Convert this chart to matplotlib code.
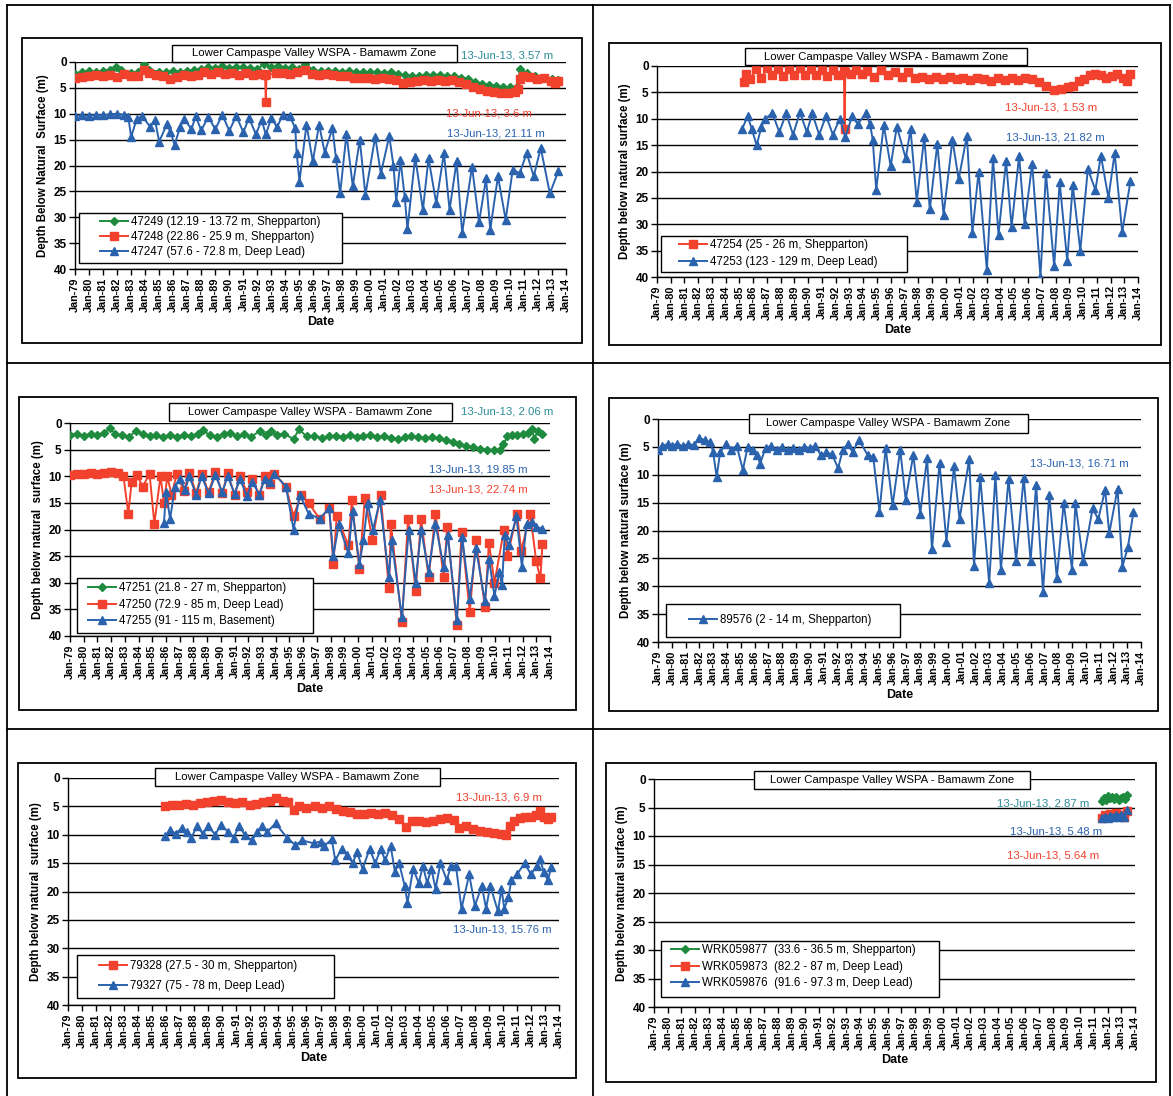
import matplotlib.pyplot as plt
from matplotlib.patches import Rectangle
from matplotlib.lines import Line2D

plt.rcParams['font.family'] = ['Liberation Sans', 'DejaVu Sans']

W, H = 1173, 1096
GREEN = '#1e8b3e'
RED = '#f2412d'
BLUE = '#2a62ae'
TEAL = '#2b8c98'

years = list(range(1979, 2015))
year_labels = ['Jan-%02d' % (y % 100) for y in years]
depth_ticks = [0, 5, 10, 15, 20, 25, 30, 35, 40]

# bore 47249 / 47248 / 47247
b47249 = [(1979.0, 2.3), (1979.5, 1.9), (1980.0, 1.8), (1980.5, 1.9), (1981.0, 1.7), (1981.5, 1.5),
          (1981.9, 0.9), (1982.3, 1.6), (1983.0, 2.1), (1983.5, 1.9), (1983.9, 0.3), (1984.3, 1.5),
          (1985.0, 1.9), (1985.5, 2.0), (1986.0, 1.8), (1986.5, 1.9), (1987.0, 1.7), (1987.5, 1.6),
          (1988.0, 1.3), (1988.5, 1.0), (1989.0, 1.2), (1989.5, 0.8), (1990.0, 1.1), (1990.5, 0.9),
          (1991.0, 1.0), (1991.5, 1.2), (1992.0, 1.3), (1992.5, 0.4), (1993.0, 1.0), (1993.5, 0.8),
          (1994.0, 1.2), (1994.5, 1.0), (1995.0, 1.3), (1995.4, 0.3), (1996.0, 1.6), (1996.5, 1.8),
          (1997.0, 1.8), (1997.5, 1.7), (1998.0, 1.9), (1998.5, 1.8), (1999.0, 2.0), (1999.5, 1.9),
          (2000.0, 2.0), (2000.5, 2.0), (2001.0, 2.1), (2001.5, 2.0), (2002.0, 2.4), (2002.5, 2.6),
          (2003.0, 2.8), (2003.5, 2.7), (2004.0, 2.5), (2004.5, 2.6), (2005.0, 2.6), (2005.5, 2.8),
          (2006.0, 2.7), (2006.5, 3.0), (2007.0, 3.2), (2007.5, 3.8), (2008.0, 4.2), (2008.5, 4.5),
          (2009.0, 4.6), (2009.5, 4.8), (2010.0, 4.9), (2010.5, 4.8), (2010.6, 4.9), (2010.7, 1.3),
          (2011.2, 2.1), (2011.8, 2.7), (2012.4, 3.0), (2013.0, 3.3), (2013.45, 3.57)]
b47248 = [(1979.0, 3.0), (1979.5, 2.9), (1980.0, 2.8), (1980.5, 2.6), (1981.0, 2.8), (1981.5, 2.5),
          (1982.0, 2.9), (1982.5, 2.4), (1983.0, 2.8), (1983.5, 2.7), (1983.9, 1.6), (1984.3, 2.2),
          (1984.8, 2.5), (1985.3, 2.8), (1985.8, 3.2), (1986.3, 2.9), (1986.8, 2.6), (1987.3, 2.7),
          (1987.8, 2.6), (1988.2, 2.0), (1988.7, 2.3), (1989.2, 2.0), (1989.7, 2.4), (1990.2, 2.1),
          (1990.7, 2.5), (1991.2, 2.2), (1991.7, 2.5), (1992.2, 2.3), (1992.55, 2.5), (1992.6, 7.8),
          (1992.65, 2.4), (1993.3, 2.2), (1993.8, 2.1), (1994.3, 2.3), (1994.8, 2.0), (1995.4, 1.6),
          (1995.9, 2.3), (1996.4, 2.5), (1996.9, 2.4), (1997.4, 2.6), (1997.9, 2.8), (1998.4, 2.7),
          (1998.9, 3.0), (1999.4, 3.1), (1999.9, 3.0), (2000.4, 3.2), (2000.9, 3.1), (2001.4, 3.3),
          (2001.9, 3.5), (2002.4, 4.0), (2002.9, 3.8), (2003.4, 3.6), (2003.9, 3.5), (2004.4, 3.7),
          (2004.9, 3.4), (2005.4, 3.6), (2005.9, 3.5), (2006.4, 3.8), (2006.9, 4.2), (2007.4, 4.8),
          (2007.9, 5.3), (2008.4, 5.6), (2008.9, 5.8), (2009.4, 5.9), (2009.9, 5.9), (2010.4, 5.8),
          (2010.6, 5.2), (2010.7, 3.2), (2010.9, 2.7), (2011.4, 2.9), (2011.9, 3.3), (2012.4, 3.1),
          (2012.9, 3.6), (2013.2, 4.0), (2013.45, 3.6)]
b47247 = [(1979.0, 10.4), (1979.5, 10.3), (1980.0, 10.4), (1980.5, 10.2), (1981.0, 10.3), (1981.5, 10.1),
          (1982.0, 10.0), (1982.5, 10.2), (1982.8, 10.6), (1983.0, 14.5), (1983.4, 11.0), (1983.8, 10.5),
          (1984.35, 12.5), (1984.7, 11.2), (1985.0, 15.4), (1985.55, 12.0), (1985.8, 13.5), (1986.1, 16.0),
          (1986.5, 12.5), (1986.8, 11.0), (1987.3, 13.0), (1987.6, 10.5), (1988.0, 13.2), (1988.5, 10.6),
          (1989.0, 13.0), (1989.5, 10.2), (1990.0, 13.3), (1990.5, 10.4), (1991.0, 13.6), (1991.4, 10.8),
          (1991.9, 14.0), (1992.3, 11.2), (1992.6, 14.0), (1993.0, 10.8), (1993.4, 12.6), (1993.8, 10.3),
          (1994.3, 10.4), (1994.7, 12.8), (1994.8, 17.5), (1995.0, 23.1), (1995.5, 12.1), (1995.95, 19.2),
          (1996.4, 12.1), (1996.8, 17.5), (1997.35, 12.8), (1997.6, 18.5), (1997.9, 25.4), (1998.35, 13.9),
          (1998.8, 24.0), (1999.3, 15.0), (1999.7, 25.7), (2000.4, 14.4), (2000.8, 21.6), (2001.4, 14.3),
          (2001.7, 20.0), (2001.9, 27.0), (2002.2, 19.0), (2002.5, 26.0), (2002.7, 32.3), (2003.25, 18.3),
          (2003.8, 28.6), (2004.2, 18.6), (2004.75, 27.3), (2005.3, 17.6), (2005.7, 28.6), (2006.2, 19.2),
          (2006.6, 33.0), (2007.3, 20.2), (2007.8, 31.0), (2008.3, 22.5), (2008.6, 32.4), (2009.15, 22.1),
          (2009.7, 30.5), (2010.2, 20.8), (2010.7, 21.5), (2011.2, 17.6), (2011.7, 22.1), (2012.2, 16.6),
          (2012.85, 25.4), (2013.45, 21.11)]

# bore 47254 / 47253
b47254 = [(1985.35, 3.0), (1985.5, 1.5), (1985.8, 2.5), (1986.2, 0.6), (1986.6, 2.2), (1987.0, 0.4),
          (1987.4, 1.8), (1987.8, 0.5), (1988.2, 1.9), (1988.6, 0.6), (1989.0, 1.7), (1989.4, 0.4),
          (1989.8, 1.8), (1990.2, 0.6), (1990.6, 1.8), (1991.0, 0.7), (1991.4, 1.9), (1991.8, 0.8),
          (1992.2, 1.8), (1992.6, 1.0), (1992.65, 12.0), (1992.7, 1.2), (1993.1, 1.6), (1993.5, 0.8),
          (1993.9, 1.5), (1994.3, 1.0), (1994.8, 2.0), (1995.3, 0.7), (1995.8, 1.8), (1996.3, 1.1),
          (1996.8, 2.0), (1997.3, 1.2), (1997.8, 2.2), (1998.3, 2.0), (1998.8, 2.4), (1999.3, 2.1),
          (1999.8, 2.5), (2000.3, 2.1), (2000.8, 2.4), (2001.3, 2.2), (2001.8, 2.6), (2002.3, 2.3),
          (2002.8, 2.5), (2003.3, 2.8), (2003.8, 2.2), (2004.3, 2.6), (2004.8, 2.3), (2005.3, 2.7),
          (2005.8, 2.2), (2006.3, 2.5), (2006.8, 3.0), (2007.3, 3.8), (2007.9, 4.6), (2008.4, 4.3),
          (2008.9, 4.0), (2009.3, 3.8), (2009.7, 2.8), (2010.1, 2.4), (2010.5, 1.8), (2010.9, 1.5),
          (2011.3, 1.7), (2011.7, 2.2), (2012.1, 1.9), (2012.5, 1.6), (2012.9, 2.3), (2013.2, 2.8),
          (2013.45, 1.53)]
b47253 = [(1985.2, 11.9), (1985.6, 9.5), (1985.9, 12.0), (1986.25, 15.0), (1986.6, 11.5), (1986.85, 10.0),
          (1987.4, 9.0), (1987.9, 12.5), (1988.4, 9.0), (1988.9, 13.0), (1989.4, 8.8), (1989.9, 12.5),
          (1990.3, 9.0), (1990.8, 13.0), (1991.3, 9.5), (1991.8, 13.0), (1992.3, 10.0), (1992.7, 13.5),
          (1993.2, 9.5), (1993.6, 11.0), (1994.2, 9.0), (1994.5, 11.0), (1994.7, 14.0), (1994.95, 23.5),
          (1995.5, 11.2), (1996.0, 19.0), (1996.45, 11.5), (1997.1, 17.5), (1997.45, 12.0), (1997.9, 25.7),
          (1998.45, 13.5), (1998.85, 27.2), (1999.4, 14.7), (1999.85, 28.2), (2000.5, 14.0), (2000.95, 21.5),
          (2001.55, 13.2), (2001.95, 31.6), (2002.4, 20.0), (2003.0, 38.6), (2003.45, 17.5), (2003.85, 32.0),
          (2004.4, 18.0), (2004.8, 30.5), (2005.35, 17.0), (2005.75, 30.0), (2006.3, 18.5), (2006.9, 40.0),
          (2007.3, 20.3), (2007.9, 38.0), (2008.3, 22.0), (2008.85, 37.0), (2009.25, 22.5), (2009.8, 35.0),
          (2010.35, 19.5), (2010.9, 23.5), (2011.3, 17.0), (2011.85, 25.0), (2012.3, 16.5), (2012.85, 31.5),
          (2013.45, 21.82)]

# bore 47251 / 47250 / 47255
b47251 = [(1979.0, 2.3), (1979.5, 2.1), (1980.0, 2.4), (1980.5, 2.0), (1981.0, 2.2), (1981.5, 1.9),
          (1981.9, 1.0), (1982.3, 2.0), (1982.8, 2.3), (1983.3, 2.6), (1983.8, 1.5), (1984.3, 2.1),
          (1984.8, 2.5), (1985.3, 2.2), (1985.8, 2.7), (1986.3, 2.3), (1986.8, 2.6), (1987.3, 2.2),
          (1987.8, 2.5), (1988.3, 2.0), (1988.7, 1.4), (1989.2, 2.3), (1989.7, 2.6), (1990.2, 2.0),
          (1990.7, 1.8), (1991.2, 2.5), (1991.7, 2.1), (1992.2, 2.6), (1992.85, 1.5), (1993.3, 2.3),
          (1993.65, 1.5), (1994.1, 2.2), (1994.6, 2.0), (1995.3, 3.0), (1995.7, 1.2), (1996.25, 2.5),
          (1996.8, 2.4), (1997.35, 2.8), (1997.9, 2.5), (1998.4, 2.4), (1998.9, 2.7), (1999.4, 2.3),
          (1999.9, 2.6), (2000.4, 2.5), (2000.9, 2.3), (2001.4, 2.6), (2001.9, 2.4), (2002.4, 2.8),
          (2002.9, 3.0), (2003.4, 2.7), (2003.9, 2.5), (2004.4, 2.6), (2004.9, 2.8), (2005.4, 2.6),
          (2005.9, 2.9), (2006.4, 3.1), (2006.9, 3.5), (2007.4, 3.9), (2007.9, 4.3), (2008.4, 4.6),
          (2008.9, 4.8), (2009.4, 5.0), (2009.9, 5.0), (2010.35, 5.0), (2010.6, 4.0), (2010.9, 2.5),
          (2011.2, 2.2), (2011.6, 2.3), (2012.0, 2.0), (2012.4, 1.8), (2012.7, 1.2), (2012.85, 3.0),
          (2013.1, 1.5), (2013.45, 2.06)]
b47250 = [(1979.0, 9.8), (1979.5, 9.6), (1980.0, 9.5), (1980.5, 9.4), (1981.0, 9.5), (1981.5, 9.3),
          (1982.0, 9.2), (1982.5, 9.4), (1982.9, 10.0), (1983.25, 17.0), (1983.5, 11.0), (1983.9, 9.8),
          (1984.3, 12.0), (1984.8, 9.5), (1985.15, 18.9), (1985.6, 10.0), (1985.85, 15.0), (1986.1, 10.0),
          (1986.4, 13.5), (1986.8, 9.5), (1987.3, 12.8), (1987.7, 9.3), (1988.2, 13.2), (1988.6, 9.5),
          (1989.1, 13.0), (1989.6, 9.2), (1990.1, 13.2), (1990.5, 9.4), (1991.0, 13.5), (1991.4, 10.0),
          (1991.9, 13.0), (1992.3, 10.5), (1992.8, 13.5), (1993.2, 10.0), (1993.6, 11.5), (1993.9, 9.5),
          (1994.75, 12.0), (1995.3, 17.5), (1995.85, 13.5), (1996.4, 15.0), (1997.2, 18.0), (1997.9, 16.0),
          (1998.2, 26.4), (1998.45, 17.5), (1999.3, 23.0), (1999.55, 14.5), (2000.1, 27.5), (2000.5, 14.0),
          (2001.05, 22.0), (2001.65, 13.5), (2002.25, 31.0), (2002.4, 19.0), (2003.2, 37.3), (2003.65, 18.0),
          (2004.2, 31.5), (2004.6, 18.0), (2005.15, 29.0), (2005.65, 17.0), (2006.25, 29.0), (2006.5, 19.5),
          (2007.2, 37.9), (2007.55, 20.5), (2008.15, 35.5), (2008.6, 22.0), (2009.25, 34.5), (2009.55, 22.5),
          (2009.95, 30.0), (2010.65, 20.0), (2010.9, 25.0), (2011.6, 17.0), (2011.9, 24.0), (2012.55, 17.0),
          (2013.0, 26.0), (2013.3, 29.2), (2013.45, 22.74)]
b47255 = [(1985.85, 18.8), (1986.0, 13.0), (1986.3, 18.0), (1986.65, 12.0), (1987.0, 10.5), (1987.4, 12.5),
          (1987.7, 10.0), (1988.2, 13.5), (1988.6, 10.0), (1989.1, 13.2), (1989.6, 9.8), (1990.1, 13.0),
          (1990.5, 10.0), (1991.0, 13.3), (1991.4, 10.5), (1991.9, 13.8), (1992.3, 11.0), (1992.8, 13.5),
          (1993.2, 10.5), (1993.6, 11.0), (1993.9, 9.5), (1994.75, 12.0), (1995.3, 20.0), (1995.75, 13.5),
          (1996.4, 17.0), (1997.2, 18.0), (1997.9, 16.0), (1998.2, 25.0), (1998.6, 19.0), (1999.3, 24.5),
          (1999.6, 16.5), (2000.1, 26.5), (2000.4, 22.0), (2000.7, 15.0), (2001.1, 20.0), (2001.6, 14.5),
          (2002.25, 29.0), (2002.45, 22.0), (2003.2, 36.5), (2003.7, 20.0), (2004.2, 30.0), (2004.6, 20.0),
          (2005.15, 28.0), (2005.65, 19.0), (2006.25, 27.0), (2006.55, 21.0), (2007.2, 37.0), (2007.6, 21.5),
          (2008.15, 33.0), (2008.6, 23.5), (2009.25, 33.5), (2009.55, 25.5), (2009.95, 32.5), (2010.3, 28.0),
          (2010.5, 30.5), (2010.7, 21.0), (2011.0, 23.0), (2011.55, 17.5), (2011.95, 27.0), (2012.3, 19.0),
          (2012.7, 18.5), (2013.0, 19.5), (2013.45, 19.85)]

# bore 89576
b89576 = [(1979.0, 5.5), (1979.3, 4.8), (1979.7, 4.5), (1980.0, 4.8), (1980.4, 4.4), (1980.8, 4.9),
          (1981.2, 4.5), (1981.6, 4.7), (1982.0, 3.4), (1982.4, 3.8), (1982.8, 4.2), (1983.0, 6.0),
          (1983.25, 10.4), (1983.5, 6.0), (1983.9, 4.5), (1984.3, 5.5), (1984.7, 4.8), (1985.15, 9.1),
          (1985.5, 5.0), (1985.9, 5.5), (1986.2, 6.5), (1986.4, 8.0), (1986.8, 5.2), (1987.2, 4.8),
          (1987.6, 5.5), (1988.0, 5.0), (1988.4, 5.6), (1988.8, 5.2), (1989.2, 5.5), (1989.6, 5.0),
          (1990.0, 5.2), (1990.4, 4.8), (1990.8, 6.5), (1991.2, 6.0), (1991.6, 6.3), (1992.05, 8.8),
          (1992.4, 5.5), (1992.8, 4.5), (1993.1, 6.0), (1993.55, 3.7), (1994.2, 6.5), (1994.6, 6.8),
          (1995.05, 16.6), (1995.5, 5.2), (1996.0, 15.5), (1996.55, 5.5), (1996.95, 14.5), (1997.5, 6.4),
          (1998.0, 17.0), (1998.5, 7.0), (1998.85, 23.4), (1999.4, 7.9), (1999.9, 22.0), (2000.45, 8.5),
          (2000.85, 18.0), (2001.55, 7.2), (2001.9, 26.3), (2002.35, 10.4), (2003.0, 29.5), (2003.45, 10.0),
          (2003.85, 27.0), (2004.4, 10.8), (2004.95, 25.4), (2005.5, 10.5), (2006.0, 25.5), (2006.4, 11.8),
          (2006.9, 31.0), (2007.35, 13.6), (2007.9, 28.5), (2008.4, 15.0), (2009.0, 27.0), (2009.25, 15.1),
          (2009.8, 25.5), (2010.5, 16.0), (2010.9, 18.0), (2011.4, 12.7), (2011.7, 20.5), (2012.3, 12.5),
          (2012.65, 26.5), (2013.05, 23.0), (2013.45, 16.71)]

# bore 79328 / 79327
b79328 = [(1985.95, 4.9), (1986.4, 4.7), (1986.9, 4.8), (1987.4, 4.6), (1987.9, 4.8), (1988.4, 4.4),
          (1988.9, 4.3), (1989.4, 4.1), (1989.9, 3.9), (1990.4, 4.2), (1990.9, 4.4), (1991.4, 4.3),
          (1991.95, 4.8), (1992.4, 4.5), (1992.9, 4.2), (1993.4, 4.0), (1993.85, 3.5), (1994.3, 4.0),
          (1994.65, 4.3), (1995.1, 5.7), (1995.5, 4.9), (1996.0, 5.2), (1996.6, 5.0), (1997.1, 5.3),
          (1997.6, 5.0), (1998.1, 5.5), (1998.6, 5.8), (1999.1, 6.0), (1999.6, 6.3), (2000.1, 6.4),
          (2000.6, 6.2), (2001.1, 6.3), (2001.6, 6.2), (2002.1, 6.5), (2002.6, 7.2), (2003.1, 8.6),
          (2003.5, 7.6), (2004.0, 7.5), (2004.5, 7.8), (2005.0, 7.6), (2005.5, 7.3), (2006.0, 7.0),
          (2006.5, 7.4), (2006.9, 8.8), (2007.4, 8.5), (2007.9, 8.9), (2008.4, 9.3), (2008.9, 9.5),
          (2009.4, 9.7), (2009.9, 9.8), (2010.2, 10.0), (2010.5, 8.5), (2010.8, 7.5), (2011.2, 7.0),
          (2011.6, 6.8), (2012.0, 6.9), (2012.35, 6.5), (2012.65, 5.8), (2012.95, 6.8), (2013.2, 7.3),
          (2013.45, 6.9)]
b79327 = [(1985.95, 10.2), (1986.3, 9.2), (1986.7, 9.8), (1987.1, 8.8), (1987.5, 9.6), (1987.8, 10.5),
          (1988.2, 8.5), (1988.6, 9.8), (1989.0, 8.5), (1989.5, 10.0), (1989.9, 8.2), (1990.4, 9.5),
          (1990.8, 10.5), (1991.2, 8.5), (1991.6, 10.0), (1992.1, 11.0), (1992.5, 9.5), (1992.8, 8.5),
          (1993.2, 9.5), (1993.8, 8.0), (1994.6, 10.5), (1995.2, 11.8), (1995.7, 11.0), (1996.5, 11.5),
          (1997.0, 11.2), (1997.25, 12.0), (1997.8, 10.8), (1998.05, 14.5), (1998.5, 12.5), (1998.9, 13.5),
          (1999.3, 15.0), (1999.6, 13.0), (2000.0, 16.0), (2000.5, 12.5), (2000.9, 15.0), (2001.3, 12.5),
          (2001.6, 14.5), (2002.0, 12.0), (2002.3, 16.5), (2002.6, 15.0), (2003.0, 19.0), (2003.2, 22.0),
          (2003.6, 16.0), (2004.0, 18.5), (2004.3, 15.5), (2004.6, 18.5), (2004.9, 16.0), (2005.2, 19.5),
          (2005.55, 15.0), (2006.0, 18.0), (2006.3, 15.5), (2006.65, 15.5), (2007.05, 23.0), (2007.6, 17.0),
          (2008.0, 22.5), (2008.5, 19.0), (2008.8, 23.0), (2009.1, 19.0), (2009.65, 23.5), (2009.9, 19.5),
          (2010.1, 23.0), (2010.4, 21.0), (2010.6, 18.0), (2011.0, 17.0), (2011.55, 15.0), (2012.0, 17.0),
          (2012.4, 15.5), (2012.65, 14.2), (2012.9, 16.5), (2013.2, 18.0), (2013.45, 15.76)]

# WRK bores
wrk059877 = [(2011.6, 3.8), (2011.75, 3.3), (2011.9, 3.6), (2012.05, 3.0), (2012.2, 3.4), (2012.35, 3.1),
             (2012.5, 3.5), (2012.65, 3.2), (2012.8, 3.6), (2012.95, 3.3), (2013.1, 3.2), (2013.25, 3.5),
             (2013.45, 2.87)]
wrk059873 = [(2011.6, 6.8), (2011.8, 6.4), (2012.0, 6.6), (2012.2, 6.2), (2012.4, 6.5), (2012.6, 6.0),
             (2012.8, 6.4), (2013.0, 6.3), (2013.2, 6.6), (2013.45, 5.64)]
wrk059876 = [(2011.6, 6.9), (2011.8, 6.6), (2012.0, 6.8), (2012.2, 6.5), (2012.4, 6.7), (2012.6, 6.3),
             (2012.8, 6.6), (2013.0, 6.4), (2013.2, 6.7), (2013.45, 5.48)]

STYLE = {
    'g': dict(color=GREEN, marker='D', ms=4.2),
    'r': dict(color=RED, marker='s', ms=5.6),
    'b': dict(color=BLUE, marker='^', ms=6.2),
}

TITLE = 'Lower Campaspe Valley WSPA - Bamawm Zone'
FS = 8.3
FS_PX = FS * 100 / 72

fig = plt.figure(figsize=(W / 100, H / 100), dpi=100)
fig.patch.set_facecolor('white')


def px_rect(x0, y0, x1, y1, **kw):
    return Rectangle((x0 / W, 1 - y1 / H), (x1 - x0) / W, (y1 - y0) / H,
                     transform=fig.transFigure, **kw)


def fig_line(x0, y0, x1, y1, lw=1.3):
    fig.add_artist(Line2D([x0 / W, x1 / W], [1 - y0 / H, 1 - y1 / H],
                          transform=fig.transFigure, color='black', lw=lw))


def panel(plot_px, frame_px, title_px, series, notes, legend, ylabel):
    fig.add_artist(px_rect(*frame_px, fill=False, ec='black', lw=1.3, zorder=1))
    l, t, r, b = plot_px
    ax = fig.add_axes([l / W, 1 - b / H, (r - l) / W, (b - t) / H])
    ax.set_facecolor('none')
    for z, (label, pts, kind) in enumerate(series):
        st = STYLE[kind]
        tt = [p[0] for p in pts]
        dd = [p[1] for p in pts]
        ax.plot(tt, dd, color=st['color'], marker=st['marker'], ms=st['ms'],
                mec=st['color'], mfc=st['color'], lw=1.4, label=label, zorder=3 + z)
    ax.set_xlim(1979, 2014)
    ax.set_ylim(40, 0)
    ax.set_yticks(depth_ticks)
    ax.set_yticklabels([str(v) for v in depth_ticks], fontsize=8.5, fontweight='bold')
    ax.set_xticks(years)
    ax.set_xticklabels(year_labels, rotation=90, fontsize=7.8, fontweight='bold')
    ax.tick_params(axis='both', direction='out', length=4, width=1, pad=2)
    ax.grid(axis='y', color='black', lw=1.0)
    ax.set_axisbelow(True)
    for s in ('top', 'right'):
        ax.spines[s].set_visible(False)
    for s in ('left', 'bottom'):
        ax.spines[s].set_linewidth(1.0)
    ax.set_ylabel(ylabel, fontsize=8.3, fontweight='bold', labelpad=3)
    ax.set_xlabel('Date', fontsize=9, fontweight='bold', labelpad=3)

    x0, y0, x1, y1 = title_px
    fig.add_artist(px_rect(x0, y0, x1, y1, fc='white', ec='black', lw=1.0, zorder=5))
    fig.text((x0 + x1) / 2 / W, 1 - (y0 + y1) / 2 / H, TITLE, ha='center', va='center',
             fontsize=8.2, zorder=6)

    for text, color, (cx, cy) in notes:
        fig.text(cx / W, 1 - cy / H, text, color=color, ha='center', va='center',
                 fontsize=8.2, zorder=6)

    # legend: frame drawn as an axes patch, entries placed inside it
    box, handle_x, first_y, step = legend
    frame = px_rect(*box, fc='white', ec='black', lw=1.0, zorder=8)
    frame.set_clip_on(False)
    ax.add_patch(frame)
    leg = ax.legend(loc='upper left', bbox_to_anchor=(handle_x / W, 1 - (first_y - FS_PX * 0.62) / H),
                    bbox_transform=fig.transFigure, fontsize=FS, frameon=False,
                    borderaxespad=0, borderpad=0, handlelength=2.4, handletextpad=0.3,
                    labelspacing=(step - FS_PX * 1.15) / FS_PX)
    leg.set_zorder(10)
    return ax


# table rules
fig_line(7, 5, 1170, 5)
fig_line(7, 363, 1170, 363)
fig_line(7, 729, 1170, 729)
fig_line(7, 5, 7, 1096)
fig_line(593, 5, 593, 1096)
fig_line(1170, 5, 1170, 1096)

panel((75, 62, 566, 269), (22, 38, 582, 343), (172, 45, 457, 62),
      [('47249 (12.19 - 13.72 m, Shepparton)', b47249, 'g'),
       ('47248 (22.86 - 25.9 m, Shepparton)', b47248, 'r'),
       ('47247 (57.6 - 72.8 m, Deep Lead)', b47247, 'b')],
      [('13-Jun-13, 3.57 m', TEAL, (507, 55)),
       ('13-Jun-13, 3.6 m', RED, (489, 113)),
       ('13-Jun-13, 21.11 m', BLUE, (496, 134))],
      ((79, 213, 342, 263), 100, 223, 16.5), 'Depth Below Natural  Surface (m)')

panel((657, 66, 1138, 277), (609, 43, 1161, 345), (745, 48, 1027, 65),
      [('47254 (25 - 26 m, Shepparton)', b47254, 'r'),
       ('47253 (123 - 129 m, Deep Lead)', b47253, 'b')],
      [('13-Jun-13, 1.53 m', RED, (1051, 107)),
       ('13-Jun-13, 21.82 m', BLUE, (1055, 137))],
      ((661, 236, 907, 272), 679, 246, 18), 'Depth below natural surface (m)')

panel((70, 423, 550, 636), (19, 397, 576, 710), (169, 403, 452, 421),
      [('47251 (21.8 - 27 m, Shepparton)', b47251, 'g'),
       ('47250 (72.9 - 85 m, Deep Lead)', b47250, 'r'),
       ('47255 (91 - 115 m, Basement)', b47255, 'b')],
      [('13-Jun-13, 2.06 m', TEAL, (507, 411)),
       ('13-Jun-13, 19.85 m', BLUE, (478, 469)),
       ('13-Jun-13, 22.74 m', RED, (478, 489))],
      ((77, 578, 313, 633), 88, 589, 18), 'Depth below natural  surface (m)')

panel((658, 419, 1141, 642), (609, 398, 1158, 711), (749, 414, 1028, 433),
      [('89576 (2 - 14 m, Shepparton)', b89576, 'b')],
      [('13-Jun-13, 16.71 m', BLUE, (1079, 464))],
      ((666, 604, 900, 637), 689, 621, 18), 'Depth below natural surface (m)')

panel((68, 778, 559, 1005), (18, 763, 576, 1078), (155, 768, 440, 786),
      [('79328 (27.5 - 30 m, Shepparton)', b79328, 'r'),
       ('79327 (75 - 78 m, Deep Lead)', b79327, 'b')],
      [('13-Jun-13, 6.9 m', RED, (499, 797)),
       ('13-Jun-13, 15.76 m', BLUE, (502, 930))],
      ((77, 955, 334, 998), 99, 967, 21), 'Depth below natural  surface (m)')

panel((654, 779, 1135, 1007), (606, 763, 1156, 1082), (754, 771, 1030, 789),
      [('WRK059877  (33.6 - 36.5 m, Shepparton)', wrk059877, 'g'),
       ('WRK059873  (82.2 - 87 m, Deep Lead)', wrk059873, 'r'),
       ('WRK059876  (91.6 - 97.3 m, Deep Lead)', wrk059876, 'b')],
      [('13-Jun-13, 2.87 m', TEAL, (1043, 804)),
       ('13-Jun-13, 5.48 m', BLUE, (1056, 832)),
       ('13-Jun-13, 5.64 m', RED, (1053, 855))],
      ((661, 941, 939, 997), 671, 951, 18), 'Depth below natural surface (m)')

fig.savefig('out.png', dpi=100)
